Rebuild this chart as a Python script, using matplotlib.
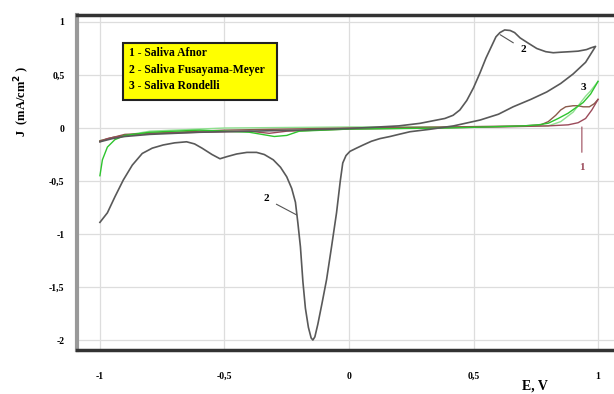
import numpy as np
import matplotlib
matplotlib.use('Agg')
import matplotlib.pyplot as plt
from matplotlib.patches import Rectangle

# curve 2 - Saliva Fusayama-Meyer (forward then reverse)
E2 = [-1.0, -0.97, -0.94, -0.906, -0.87, -0.83, -0.79, -0.746, -0.70, -0.652,
      -0.62, -0.59, -0.55, -0.518, -0.49, -0.451, -0.41, -0.371, -0.34, -0.304,
      -0.275, -0.25, -0.23, -0.215, -0.205, -0.195, -0.185, -0.175, -0.163, -0.152,
      -0.145, -0.137, -0.125, -0.108, -0.09, -0.07, -0.05, -0.035, -0.025, -0.012,
      0.004, 0.03, 0.057, 0.09, 0.124, 0.165, 0.2, 0.245, 0.325, 0.42,
      0.526, 0.6, 0.659, 0.73, 0.794, 0.85, 0.9, 0.95, 0.99,
      0.97, 0.954, 0.92, 0.888, 0.85, 0.82, 0.79, 0.754, 0.72, 0.687,
      0.665, 0.647, 0.625, 0.606, 0.59, 0.578, 0.55, 0.526, 0.5, 0.473,
      0.445, 0.418, 0.385, 0.352, 0.285, 0.2, 0.0, -0.2, -0.4, -0.6,
      -0.8, -0.9, -0.95, -1.0]
J2 = [-0.89, -0.8, -0.65, -0.49, -0.35, -0.24, -0.19, -0.16, -0.14, -0.13,
      -0.15, -0.19, -0.25, -0.29, -0.27, -0.245, -0.23, -0.23, -0.25, -0.30,
      -0.37, -0.46, -0.57, -0.70, -0.90, -1.12, -1.45, -1.70, -1.88, -1.98,
      -2.0, -1.97, -1.85, -1.65, -1.43, -1.12, -0.80, -0.50, -0.33, -0.26,
      -0.22, -0.19, -0.16, -0.125, -0.10, -0.08, -0.06, -0.035, -0.012, 0.02,
      0.075, 0.13, 0.2, 0.27, 0.34, 0.42, 0.51, 0.62, 0.77,
      0.755, 0.74, 0.725, 0.72, 0.715, 0.71, 0.72, 0.75, 0.80, 0.85,
      0.90, 0.92, 0.925, 0.90, 0.86, 0.80, 0.66, 0.52, 0.38, 0.26,
      0.17, 0.12, 0.09, 0.075, 0.044, 0.02, -0.005, -0.02, -0.03, -0.04,
      -0.06, -0.08, -0.1, -0.13]

# curve 1 - Saliva Afnor
E1_fwd = [-1.0, -0.97, -0.95, -0.9, -0.8, -0.6, -0.4, -0.32, -0.25, 0.0, 0.3, 0.6,
          0.8, 0.88, 0.92, 0.95, 0.975, 1.0]
J1_fwd = [-0.13, -0.1, -0.09, -0.07, -0.05, -0.04, -0.03, -0.05, -0.03, -0.01, 0.0, 0.01,
          0.02, 0.03, 0.05, 0.09, 0.17, 0.27]
E1_rev = [1.0, 0.985, 0.965, 0.94, 0.92, 0.9, 0.87, 0.85, 0.83, 0.8, 0.77, 0.7, 0.4,
          0.0, -0.5, -0.9, -1.0]
J1_rev = [0.27, 0.23, 0.2, 0.2, 0.21, 0.21, 0.2, 0.17, 0.12, 0.06, 0.03, 0.02, 0.01,
          0.0, -0.02, -0.06, -0.12]

# curve 3 - Saliva Rondelli
E3_fwd = [-1.0, -0.99, -0.97, -0.94, -0.9, -0.8, -0.6, -0.4, -0.3, -0.25, -0.2, 0.0,
          0.4, 0.7, 0.76, 0.8, 0.84, 0.88, 0.91, 0.94, 0.97, 1.0]
J3_fwd = [-0.45, -0.3, -0.18, -0.11, -0.07, -0.04, -0.02, -0.04, -0.08, -0.07, -0.03, -0.01,
          0.0, 0.02, 0.03, 0.045, 0.09, 0.14, 0.19, 0.24, 0.32, 0.44]
E3_rev = [1.0, 0.97, 0.95, 0.92, 0.9, 0.85, 0.8, 0.5, 0.0, -0.5, -0.8, -0.95, -1.0]
J3_rev = [0.44, 0.35, 0.3, 0.21, 0.15, 0.06, 0.02, 0.01, 0.01, 0.0, -0.03, -0.09, -0.12]

xticks = [-1, -0.5, 0, 0.5, 1]
xlabels = ['-1', '-0,5', '0', '0,5', '1']
yticks = [1, 0.5, 0, -0.5, -1, -1.5, -2]
ylabels = ['1', '0,5', '0', '-0,5', '-1', '-1,5', '-2']

legend_lines = ['1 - Saliva Afnor', '2 - Saliva Fusayama-Meyer', '3 - Saliva Rondelli']

plt.rcParams['font.family'] = ['Liberation Serif', 'DejaVu Serif']

fig = plt.figure(figsize=(6.14, 3.94), dpi=100)
ax = fig.add_axes([77/614, 1-350/394, 1-77/614, 335/394])

ax.plot(E3_rev, J3_rev, color='#8fe08f', lw=1.0)
ax.plot(E1_rev, J1_rev, color='#8a5a4a', lw=1.0)
ax.plot(E1_fwd, J1_fwd, color='#9b4a5a', lw=1.0)
ax.plot(E3_fwd, J3_fwd, color='#2ec42e', lw=1.0)
ax.plot(E2, J2, color='#595959', lw=1.2)

ax.set_xlim(-1.092, 1.064)
ax.set_ylim(-2.094, 1.066)
ax.set_xticks(xticks)
ax.set_xticklabels(xlabels, fontsize=7, fontweight='bold')
ax.set_yticks(yticks)
ax.set_yticklabels(ylabels, fontsize=7, fontweight='bold')
ax.tick_params(length=0, pad=9)
ax.tick_params(axis='x', pad=16)
ax.grid(color='#dddddd', lw=0.9)

ax.spines['right'].set_visible(False)
ax.spines['left'].set_color('#999999')
ax.spines['left'].set_linewidth(3)
ax.spines['top'].set_color('#333333')
ax.spines['top'].set_linewidth(2.5)
ax.spines['bottom'].set_color('#333333')
ax.spines['bottom'].set_linewidth(2.5)

# curve labels
ax.annotate('2', xy=(0.607, 0.88), xytext=(0.69, 0.72), fontsize=8, fontweight='bold',
            arrowprops=dict(arrowstyle='-', color='#555555', lw=0.8, shrinkB=0, shrinkA=4))
ax.annotate('2', xy=(-0.21, -0.82), xytext=(-0.345, -0.69), fontsize=8, fontweight='bold',
            arrowprops=dict(arrowstyle='-', color='#555555', lw=0.8, shrinkB=0, shrinkA=4))
ax.text(0.93, 0.36, '3', fontsize=8, fontweight='bold')
ax.annotate('1', xy=(0.935, 0.01), xytext=(0.935, -0.4), fontsize=8, fontweight='bold',
            color='#9b4a5a', ha='center',
            arrowprops=dict(arrowstyle='-', color='#9b4a5a', lw=0.8, shrinkB=0, shrinkA=6))

# legend box
fig.patches.append(Rectangle((123/614, 1-100/394), 154/614, 57/394, transform=fig.transFigure,
                             facecolor='#ffff00', edgecolor='#222222', lw=1.5, zorder=5))
for i, s in enumerate(legend_lines):
    fig.text(129/614, 1-(53+16.5*i)/394, s, fontsize=8.4, fontweight='bold', va='center', zorder=6)

fig.text(22/614, 1-102/394, 'J  (mA/cm$^{\\mathbf{2}}$ )', rotation=90, fontsize=9,
         fontweight='bold', ha='center', va='center')
fig.text(535/614, 1-386/394, 'E, V', fontsize=10, fontweight='bold', ha='center', va='center')

plt.savefig('out.png', dpi=100)
